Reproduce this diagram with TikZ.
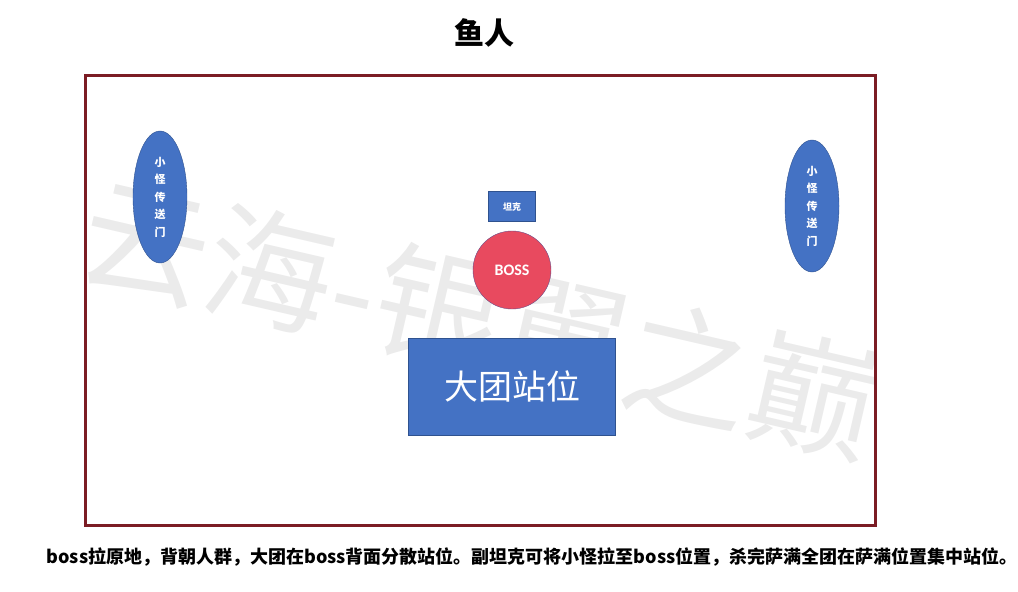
\documentclass[tikz,border=0pt]{standalone}
\usepackage{fontspec}
\setmainfont{Carlito}
\newfontfamily\cjk{Noto Sans CJK SC}
\usetikzlibrary{shapes.geometric, positioning}
\definecolor{fillblue}{HTML}{4472C4}
\definecolor{lineblue}{HTML}{2F528F}
\definecolor{bossred}{HTML}{E84A5F}
\definecolor{bossline}{HTML}{6A4A85}
\definecolor{framered}{HTML}{7B1C24}
\definecolor{markgray}{HTML}{EBEBEB}
\tikzstyle{portal} = [ellipse, minimum width=54pt, minimum height=132pt, inner sep=0pt, draw=lineblue, fill=fillblue, text=white, align=center, font=\cjk\bfseries\fontsize{11}{17.5}\selectfont]
\tikzstyle{bossnode} = [circle, minimum size=78pt, inner sep=0pt, draw=bossline, fill=bossred, text=white, font=\bfseries\fontsize{16}{18}\selectfont]
\tikzstyle{block} = [rectangle, inner sep=0pt, draw=lineblue, fill=fillblue, text=white]

\begin{document}
\begin{tikzpicture}[x=1pt, y=-1pt, node distance=10pt]
\useasboundingbox (0,0) rectangle (1018,592);

% Watermark
\node (mark) [rotate=-13, text=markgray, font=\cjk\fontsize{128}{128}\selectfont] at (480,318) {云海-银翼之巅};

% Title and frame
\node (title) [font=\cjk\bfseries\fontsize{30}{32}\selectfont] at (484,33) {鱼人};
\draw [framered, line width=3pt] (85,75) rectangle (875,525);

% Portals
\node (P1) [portal] at (160,197) {小\\怪\\传\\送\\门};
\node (P2) [portal] at (812,206) {小\\怪\\传\\送\\门};

% Boss, tank and raid
\node (B) [bossnode] at (512,270) {BOSS};
\node (T) [block, above=9pt of B, minimum width=47pt, minimum height=30pt, font=\cjk\bfseries\fontsize{9}{10}\selectfont] {坦克};
\node (R) [block, below=29pt of B, minimum width=207pt, minimum height=97pt, font=\cjk\fontsize{34}{36}\selectfont] {大团站位};

% Note
\node (note) [font=\cjk\bfseries\fontsize{18}{20}\selectfont] at (532,557) {boss拉原地，背朝人群，大团在boss背面分散站位。副坦克可将小怪拉至boss位置，杀完萨满全团在萨满位置集中站位。};

\end{tikzpicture}
\end{document}
